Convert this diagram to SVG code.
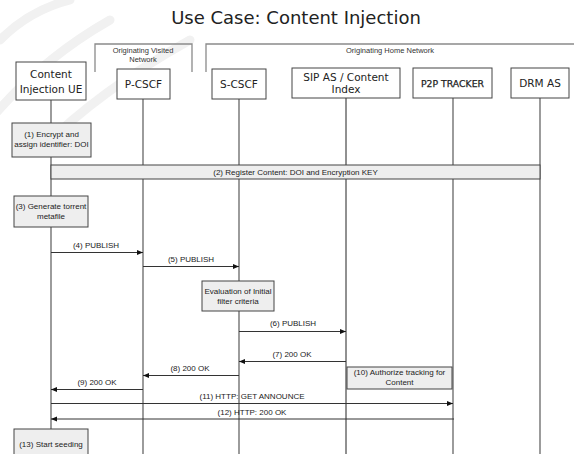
<svg xmlns="http://www.w3.org/2000/svg" width="574" height="454" viewBox="0 0 574 454">
  <style>
    .title { font-family: "DejaVu Sans", Verdana, sans-serif; font-size: 18px; fill: #222; text-anchor: middle; }
    .node rect { fill: #fff; stroke: #444; stroke-width: 1; }
    .node text { font-family: "DejaVu Sans", Verdana, sans-serif; font-size: 10.5px; fill: #222; text-anchor: middle; }
    .life { stroke: #666; stroke-width: 1.3; fill: none; }
    .life.dark { stroke: #222; stroke-width: 1; }
    .grp { stroke: #8a8a8a; stroke-width: 1.3; fill: none; }
    .grp-label { font-family: "Liberation Sans", Arial, sans-serif; font-size: 7.5px; fill: #333; text-anchor: middle; }
    .act rect { fill: #eeeeee; stroke: #444; stroke-width: 1; }
    .act text, .lbl { font-family: "Liberation Sans", Arial, sans-serif; font-size: 8px; fill: #222; text-anchor: middle; }
    .msg { stroke: #333; stroke-width: 1; fill: none; }
    .wm { fill: none; stroke: #f1f1f1; stroke-width: 9; stroke-linecap: round; }
  </style>
  <defs>
    <marker id="head" viewBox="0 0 6 6" refX="6" refY="3" markerWidth="6" markerHeight="6" markerUnits="userSpaceOnUse" orient="auto">
      <path d="M0,0.5 L6,3 L0,5.5 Z" fill="#111"/>
    </marker>
  </defs>

  <rect width="574" height="454" fill="#fff"/>

  <!-- faint background mark, top left -->
  <g id="background-mark">
    <path class="wm" d="M-10,120 Q40,60 110,20"/>
    <path class="wm" d="M40,150 Q100,90 190,40"/>
    <path class="wm" d="M0,40 Q30,10 70,0"/>
  </g>

  <text class="title" x="296" y="24">Use Case: Content Injection</text>

  <!-- network groupings -->
  <g id="visited-network">
    <path class="grp" d="M95,72 V44 H192 V72"/>
    <text class="grp-label" x="143" y="53">Originating Visited</text>
    <text class="grp-label" x="143" y="62">Network</text>
  </g>
  <g id="home-network">
    <path class="grp" d="M206,72 V44 H574"/>
    <text class="grp-label" x="390" y="53">Originating Home Network</text>
  </g>

  <!-- lifelines -->
  <g id="lifelines">
    <line class="life" x1="51" y1="100" x2="51" y2="454"/>
    <line class="life" x1="143" y1="99" x2="143" y2="454"/>
    <line class="life" x1="239" y1="99" x2="239" y2="454"/>
    <line class="life dark" x1="346" y1="98" x2="346" y2="454"/>
    <line class="life" x1="453" y1="98" x2="453" y2="454"/>
    <line class="life" x1="540" y1="98" x2="540" y2="454"/>
  </g>

  <!-- participants -->
  <g id="ue" class="node">
    <rect x="16" y="62" width="70" height="38"/>
    <text x="51" y="78">Content</text>
    <text x="51" y="93">Injection UE</text>
  </g>
  <g id="pcscf" class="node">
    <rect x="117" y="69" width="53" height="30"/>
    <text x="143.5" y="88">P-CSCF</text>
  </g>
  <g id="scscf" class="node">
    <rect x="212" y="69" width="54" height="30"/>
    <text x="239" y="88">S-CSCF</text>
  </g>
  <g id="sipas" class="node">
    <rect x="292" y="68" width="108" height="30"/>
    <text x="346" y="80.5">SIP AS / Content</text>
    <text x="346" y="93">Index</text>
  </g>
  <g id="tracker" class="node">
    <rect x="413" y="68" width="79" height="30"/>
    <text x="452.5" y="87" style="font-size:9.3px;stroke:#222;stroke-width:0.25">P2P TRACKER</text>
  </g>
  <g id="drm" class="node">
    <rect x="511" y="68" width="58" height="30"/>
    <text x="540" y="87">DRM AS</text>
  </g>

  <!-- local actions -->
  <g id="step1" class="act">
    <rect x="12" y="123" width="79" height="34"/>
    <text x="51.5" y="137">(1) Encrypt and</text>
    <text x="51.5" y="147">assign identifier: DOI</text>
  </g>
  <g id="step2" class="act">
    <rect x="51" y="165" width="489" height="14"/>
    <text x="295.5" y="175">(2) Register Content: DOI and Encryption KEY</text>
  </g>
  <g id="step3" class="act">
    <rect x="14" y="196" width="74" height="31"/>
    <text x="51" y="209">(3) Generate torrent</text>
    <text x="51" y="219">metafile</text>
  </g>
  <g id="eval" class="act">
    <rect x="202" y="281" width="72" height="30"/>
    <text x="238" y="294">Evaluation of Initial</text>
    <text x="238" y="304">filter criteria</text>
  </g>
  <g id="step10" class="act">
    <rect x="347" y="367" width="105" height="22"/>
    <text x="399.5" y="375">(10) Authorize tracking for</text>
    <text x="399.5" y="385">Content</text>
  </g>
  <g id="step13" class="act">
    <rect x="14" y="429" width="74" height="30"/>
    <text x="51" y="447">(13) Start seeding</text>
  </g>

  <!-- messages -->
  <g id="messages">
    <line class="msg" x1="51" y1="252.5" x2="143" y2="252.5" marker-end="url(#head)"/>
    <text class="lbl" x="96" y="248">(4) PUBLISH</text>

    <line class="msg" x1="143" y1="266.5" x2="239" y2="266.5" marker-end="url(#head)"/>
    <text class="lbl" x="191" y="262">(5) PUBLISH</text>

    <line class="msg" x1="239" y1="331.5" x2="346" y2="331.5" marker-end="url(#head)"/>
    <text class="lbl" x="293" y="326">(6) PUBLISH</text>

    <line class="msg" x1="346" y1="361.5" x2="239" y2="361.5" marker-end="url(#head)"/>
    <text class="lbl" x="292" y="357">(7) 200 OK</text>

    <line class="msg" x1="239" y1="375.5" x2="143" y2="375.5" marker-end="url(#head)"/>
    <text class="lbl" x="190" y="371">(8) 200 OK</text>

    <line class="msg" x1="143" y1="389.5" x2="51" y2="389.5" marker-end="url(#head)"/>
    <text class="lbl" x="97" y="385">(9) 200 OK</text>

    <line class="msg" x1="51" y1="403.5" x2="453" y2="403.5" marker-end="url(#head)"/>
    <text class="lbl" x="252" y="399">(11) HTTP: GET ANNOUNCE</text>

    <line class="msg" x1="454" y1="419" x2="51" y2="419" marker-end="url(#head)"/>
    <text class="lbl" x="252" y="415">(12) HTTP: 200 OK</text>
  </g>
</svg>
